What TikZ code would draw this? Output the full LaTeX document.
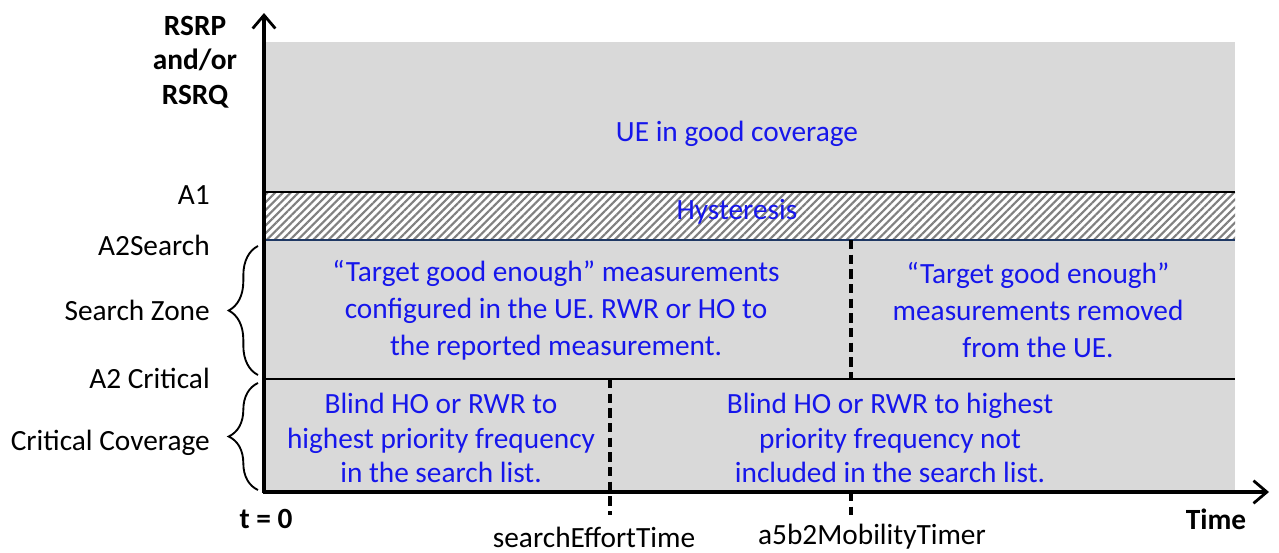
\documentclass[tikz,border=0pt]{standalone}
\usepackage{fontspec}
\setmainfont{Carlito}
\usetikzlibrary{arrows.meta,patterns.meta,decorations.pathreplacing}
\definecolor{zone}{RGB}{217,217,217}
\definecolor{note}{RGB}{22,22,235}
\definecolor{hline}{RGB}{31,56,100}
\tikzset{
  axis/.style={line width=2.3pt, -{Straight Barb[length=10pt,width=17pt,line width=2.1pt]}},
  level/.style={line width=1.4pt},
  marker/.style={line width=2.6pt, dash pattern=on 7pt off 4pt},
  note/.style={text=note, align=center, inner sep=0pt},
  lab/.style={anchor=east, inner sep=0pt},
  axlab/.style={inner sep=0pt, font=\fontsize{22}{26}\selectfont\bfseries},
  bracezone/.style={line width=1.4pt, decorate, decoration={brace, amplitude=22pt, aspect=0.5}},
}
\begin{document}
\begin{tikzpicture}[x=0.75pt,y=-0.75pt,font=\fontsize{22}{26}\selectfont]
\useasboundingbox (0,0) rectangle (1279,553);

% coverage bands
\fill[zone] (265,42) rectangle (1235,492);
\fill[white] (265,192) rectangle (1235,240);
\fill[pattern={Lines[angle=45,distance=4.1pt,line width=1.6pt]}, pattern color=gray]
  (265,192) rectangle (1235,240);

% threshold levels
\draw[level] (264,192) -- (1235,192);
\draw[hline, line width=1pt] (264,240) -- (1235,240);
\draw[level] (264,379) -- (1235,379);

% timer markers
\coordinate (m1top) at (610,379);
\coordinate (m1bot) at (610,515);
\coordinate (m2top) at (851,240);
\coordinate (m2mid) at (851,379);
\coordinate (m2low) at (851,492);
\coordinate (m2bot) at (851,515);
\draw[marker] (m1top) -- (m1bot);
\draw[marker] (m2top) -- (m2mid);
\draw[marker] (m2low) -- (m2bot);

% axes
\coordinate (o) at (264,493);
\coordinate (ytop) at (264,13);
\coordinate (xend) at (1269,492);
\draw[axis] (264,493) -- (ytop);
\draw[axis] (263,492) -- (xend);

% axis labels
\node[axlab, align=center] (yl) at (195,62) {RSRP\\and/or\\RSRQ};
\node[axlab] (t0) at (266,519) {t = 0};
\node[axlab] (tl) at (1216,519) {Time};
\node[inner sep=0pt] (set) at (594,537) {searchEffortTime};
\node[inner sep=0pt] (a5b2) at (872,537) {a5b2MobilityTimer};

% level labels
\node[lab] (a1) at (210,195) {A1};
\node[lab] (a2s) at (210,245) {A2Search};
\node[lab] (sz) at (210,310) {Search Zone};
\node[lab] (a2c) at (210,378) {A2 Critical};
\node[lab] (cc) at (210,443) {Critical Coverage};

% braces
\draw[bracezone] (258,375) -- (258,246);
\draw[bracezone] (258,490) -- (258,383);

% zone notes
\node[note] (good) at (737,134) {UE in good coverage};
\node[note] (hyst) at (737,212) {Hysteresis};
\node[note, font=\fontsize{22}{27.75}\selectfont] (s1) at (556,310)
  {“Target good enough” measurements\\configured in the UE. RWR or HO to\\the reported measurement.};
\node[note, font=\fontsize{22}{27.75}\selectfont] (s2) at (1038,310)
  {“Target good enough”\\measurements removed\\from the UE.};
\node[note, font=\fontsize{22}{26}\selectfont] (c1) at (441,438)
  {Blind HO or RWR to\\highest priority frequency\\in the search list.};
\node[note, font=\fontsize{22}{26}\selectfont] (c2) at (890,438)
  {Blind HO or RWR to highest\\priority frequency not\\included in the search list.};
\end{tikzpicture}
\end{document}
